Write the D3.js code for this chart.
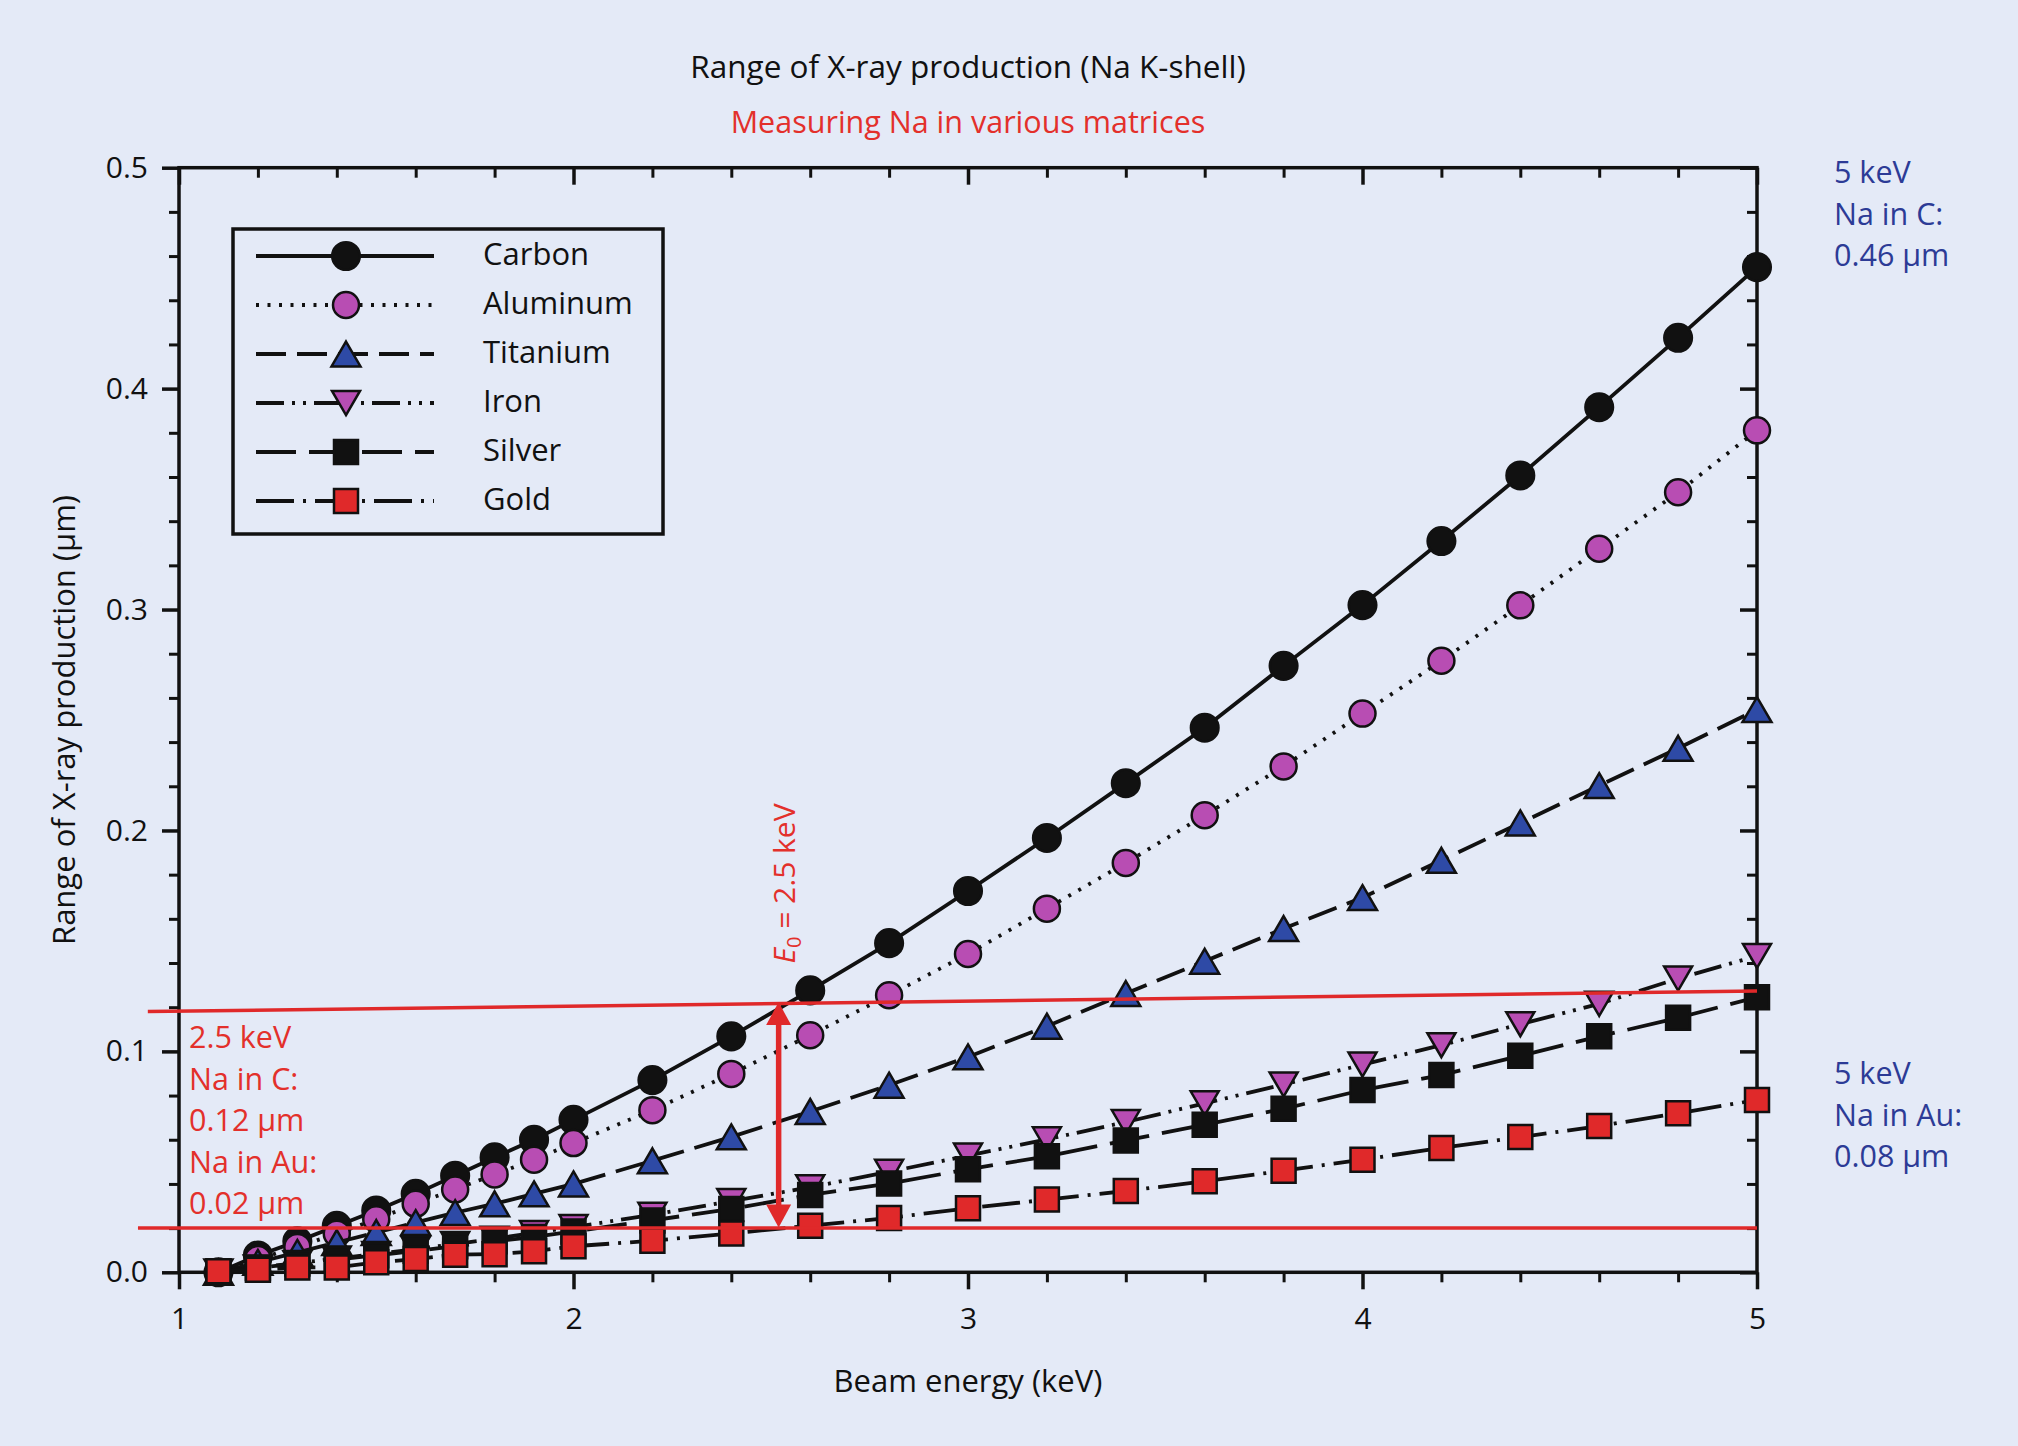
<!DOCTYPE html>
<html><head><meta charset="utf-8">
<script src="https://cdn.jsdelivr.net/npm/d3@7"></script>
<style>
html,body{margin:0;padding:0;background:#e4eaf7;}
svg{display:block;}
text{font-family:"Open Sans",sans-serif;}
</style></head><body>
<svg id="chart" width="2018" height="1446"></svg>
<script>
// ---------- data ----------
const energy   = [1.1,1.2,1.3,1.4,1.5,1.6,1.7,1.8,1.9,2.0,2.2,2.4,2.6,2.8,3.0,3.2,3.4,3.6,3.8,4.0,4.2,4.4,4.6,4.8,5.0];
const carbon   = [0.000,0.0076,0.014,0.021,0.028,0.0355,0.0437,0.052,0.060,0.069,0.087,0.1068,0.1276,0.149,0.1726,0.1966,0.2214,0.2465,0.2745,0.302,0.331,0.3607,0.3916,0.423,0.455];
const aluminum = [0.000,0.006,0.0115,0.0175,0.024,0.031,0.0375,0.0443,0.051,0.0585,0.0734,0.0898,0.1073,0.1254,0.1441,0.1646,0.1853,0.2069,0.229,0.2529,0.2768,0.3019,0.3275,0.3531,0.3811];
const titanium = [0.000,0.0045,0.009,0.0135,0.018,0.0225,0.027,0.031,0.0355,0.040,0.0505,0.0613,0.0728,0.0847,0.0975,0.1114,0.1262,0.1408,0.1556,0.1696,0.1865,0.2034,0.2203,0.2372,0.2547];
const iron     = [0.0003,0.0022,0.0042,0.0062,0.0083,0.0105,0.0128,0.0152,0.0178,0.0205,0.026,0.0322,0.0385,0.0455,0.0528,0.0602,0.068,0.0765,0.085,0.094,0.1028,0.1123,0.1215,0.133,0.1432];
const silver   = [0.0003,0.002,0.004,0.0058,0.0077,0.0097,0.0118,0.014,0.016,0.0185,0.0235,0.0287,0.035,0.0402,0.0466,0.0525,0.0597,0.0668,0.074,0.0825,0.0893,0.098,0.1068,0.1152,0.1245];
const gold     = [0.0005,0.0012,0.0022,0.0022,0.0045,0.006,0.008,0.0082,0.0095,0.0118,0.0143,0.0176,0.0211,0.0246,0.029,0.0329,0.0368,0.0412,0.046,0.051,0.0563,0.0612,0.0662,0.072,0.078];
const seriesNames = ["Carbon","Aluminum","Titanium","Iron","Silver","Gold"];

const xTicks = [1,2,3,4,5];
const xMinorTicks = [1.2,1.4,1.6,1.8,2.2,2.4,2.6,2.8,3.2,3.4,3.6,3.8,4.2,4.4,4.6,4.8];
const yTicks = [0,0.1,0.2,0.3,0.4,0.5];
const yMinorTicks = [0.02,0.04,0.06,0.08,0.12,0.14,0.16,0.18,0.22,0.24,0.26,0.28,0.32,0.34,0.36,0.38,0.42,0.44,0.46,0.48];

const titleText = "Range of X-ray production (Na K-shell)";
const subtitleText = "Measuring Na in various matrices";
const xLabel = "Beam energy (keV)";
const yLabel = "Range of X-ray production (µm)";

// annotation values
const upperLine = [[0.921,0.1180],[5.0,0.1273]];   // sloped red line
const lowerLine = [[0.896,0.020],[5.0,0.020]];     // horizontal red line
const arrowE = 2.52, arrowTop = 0.1223, arrowBottom = 0.0203;
const leftNote  = ["2.5 keV","Na in C:","0.12 µm","Na in Au:","0.02 µm"];
const rightTopNote = ["5 keV","Na in C:","0.46 µm"];
const rightBotNote = ["5 keV","Na in Au:","0.08 µm"];

// ---------- style ----------
const BLACK="#111111", MAGENTA="#b84db3", BLUE="#2e4aa6", RED="#e0292a", RED_TXT="#e3302b", BLUE_TXT="#2c3b96";
const triUp = {draw(ctx,s){const w=Math.sqrt(s),h=w*0.86;ctx.moveTo(0,-h/2);ctx.lineTo(w/2,h/2);ctx.lineTo(-w/2,h/2);ctx.closePath();}};
const triDown = {draw(ctx,s){const w=Math.sqrt(s),h=w*0.86;ctx.moveTo(0,h/2);ctx.lineTo(w/2,-h/2);ctx.lineTo(-w/2,-h/2);ctx.closePath();}};
const styles = {
  Carbon:   {type:d3.symbolCircle, size:Math.PI*13.8*13.8, fill:BLACK,   dash:null},
  Aluminum: {type:d3.symbolCircle, size:Math.PI*13*13,     fill:MAGENTA, dash:"3,8.5"},
  Titanium: {type:triUp,           size:29*29,             fill:BLUE,    dash:"30,11"},
  Iron:     {type:triDown,         size:28*28,             fill:MAGENTA, dash:"28,8,3,8,3,8"},
  Silver:   {type:d3.symbolSquare, size:24*24,             fill:BLACK,   dash:"40,13"},
  Gold:     {type:d3.symbolSquare, size:24*24,             fill:RED,     dash:"38,9,3,9"}
};
const seriesValues = [carbon,aluminum,titanium,iron,silver,gold];

// ---------- scales ----------
const svg = d3.select("#chart");
const x = d3.scaleLinear().domain([1,5]).range([179,1757]);
const y = d3.scaleLinear().domain([0,0.5]).range([1272.3,167.7]);
const FS = 30;

// titles
const cx = (x.range()[0]+x.range()[1])/2;
svg.append("text").attr("x",cx).attr("y",78).attr("text-anchor","middle")
  .attr("font-size",31.5).attr("fill",BLACK).text(titleText);
svg.append("text").attr("x",cx).attr("y",133).attr("text-anchor","middle")
  .attr("font-size",30.5).attr("fill",RED_TXT).text(subtitleText);

// axes
const axW = 3.5;
function styleAxis(g, sw){
  g.select(".domain").remove();
  g.selectAll(".tick line").attr("stroke",BLACK).attr("stroke-width",sw);
  g.selectAll(".tick text").attr("font-size",FS).attr("fill",BLACK).attr("font-family","Open Sans");
}
// left
svg.append("g").attr("transform",`translate(${x(1)},0)`)
  .call(d3.axisLeft(y).tickValues(yTicks).tickSize(17).tickSizeOuter(0).tickPadding(14).tickFormat(d3.format(".1f")))
  .call(g=>styleAxis(g,axW));
svg.append("g").attr("transform",`translate(${x(1)},0)`)
  .call(d3.axisLeft(y).tickValues(yMinorTicks).tickSize(10).tickFormat(""))
  .call(g=>styleAxis(g,3));
// bottom
svg.append("g").attr("transform",`translate(0,${y(0)})`)
  .call(d3.axisBottom(x).tickValues(xTicks).tickSize(17).tickSizeOuter(0).tickPadding(18).tickFormat(d3.format("d")))
  .call(g=>styleAxis(g,axW));
svg.append("g").attr("transform",`translate(0,${y(0)})`)
  .call(d3.axisBottom(x).tickValues(xMinorTicks).tickSize(10).tickFormat(""))
  .call(g=>styleAxis(g,3));
// top (inward)
svg.append("g").attr("transform",`translate(0,${y(0.5)})`)
  .call(d3.axisBottom(x).tickValues(xTicks).tickSize(17).tickFormat(""))
  .call(g=>styleAxis(g,axW));
svg.append("g").attr("transform",`translate(0,${y(0.5)})`)
  .call(d3.axisBottom(x).tickValues(xMinorTicks).tickSize(10).tickFormat(""))
  .call(g=>styleAxis(g,3));
// right (inward)
svg.append("g").attr("transform",`translate(${x(5)},0)`)
  .call(d3.axisLeft(y).tickValues(yTicks).tickSize(17).tickFormat(""))
  .call(g=>styleAxis(g,axW));
svg.append("g").attr("transform",`translate(${x(5)},0)`)
  .call(d3.axisLeft(y).tickValues(yMinorTicks).tickSize(10).tickFormat(""))
  .call(g=>styleAxis(g,3));
// frame
svg.append("rect").attr("x",x(1)).attr("y",y(0.5)).attr("width",x(5)-x(1)).attr("height",y(0)-y(0.5))
  .attr("fill","none").attr("stroke",BLACK).attr("stroke-width",axW);

// axis labels
svg.append("text").attr("x",cx).attr("y",1392).attr("text-anchor","middle")
  .attr("font-size",31).attr("fill",BLACK).text(xLabel);
svg.append("text").attr("transform",`translate(75,${(y(0)+y(0.5))/2}) rotate(-90)`).attr("text-anchor","middle")
  .attr("font-size",31).attr("fill",BLACK).text(yLabel);

// series
const line = d3.line().x(d=>x(d[0])).y(d=>y(d[1]));
seriesNames.forEach((name,i)=>{
  const st = styles[name];
  const pts = energy.map((e,j)=>[e,seriesValues[i][j]]);
  const g = svg.append("g");
  g.append("path").datum(pts).attr("d",line).attr("fill","none")
    .attr("stroke",BLACK).attr("stroke-width",3.8)
    .attr("stroke-dasharray",st.dash);
  g.selectAll("path.m").data(pts).join("path").attr("class","m")
    .attr("transform",d=>`translate(${x(d[0])},${y(d[1])})`)
    .attr("d",d3.symbol().type(st.type).size(st.size))
    .attr("fill",st.fill).attr("stroke",BLACK).attr("stroke-width",2.5).attr("stroke-linejoin","miter");
});

// legend
const lg = svg.append("g");
lg.append("rect").attr("x",233).attr("y",229).attr("width",430).attr("height",305)
  .attr("fill","none").attr("stroke",BLACK).attr("stroke-width",3.5);
seriesNames.forEach((name,i)=>{
  const st = styles[name];
  const yy = 256 + i*49;
  lg.append("line").attr("x1",256).attr("x2",434).attr("y1",yy).attr("y2",yy)
    .attr("stroke",BLACK).attr("stroke-width",3.8).attr("stroke-dasharray",st.dash);
  lg.append("path").attr("transform",`translate(346,${yy})`)
    .attr("d",d3.symbol().type(st.type).size(st.size))
    .attr("fill",st.fill).attr("stroke",BLACK).attr("stroke-width",2.5);
  lg.append("text").attr("x",483).attr("y",yy+9).attr("font-size",31).attr("fill",BLACK).text(name);
});

// red annotation lines
const redLine = d3.line().x(d=>x(d[0])).y(d=>y(d[1]));
svg.append("path").datum(upperLine).attr("d",redLine).attr("stroke",RED).attr("stroke-width",3.5).attr("fill","none");
svg.append("path").datum(lowerLine).attr("d",redLine).attr("stroke",RED).attr("stroke-width",3.5).attr("fill","none");

// double arrow
const ax = x(arrowE), ayT = y(arrowTop), ayB = y(arrowBottom);
const headL = 23, headW = 12.5;
svg.append("line").attr("x1",ax).attr("x2",ax).attr("y1",ayT+headL-2).attr("y2",ayB-headL+2)
  .attr("stroke",RED).attr("stroke-width",5.5);
svg.append("path").attr("d",`M${ax},${ayT} L${ax+headW},${ayT+headL} L${ax-headW},${ayT+headL} Z`).attr("fill",RED);
svg.append("path").attr("d",`M${ax},${ayB} L${ax+headW},${ayB-headL} L${ax-headW},${ayB-headL} Z`).attr("fill",RED);

// E0 label
const e0 = svg.append("text").attr("transform",`translate(${ax+16},${(y(0.139)+y(0.213))/2}) rotate(-90)`)
  .attr("text-anchor","middle").attr("font-size",FS).attr("fill",RED_TXT);
e0.append("tspan").attr("font-style","italic").text("E");
e0.append("tspan").attr("font-size",20).attr("dy",6).text("0");
e0.append("tspan").attr("dy",-6).text(" = 2.5 keV");

// notes
function note(lines, x0, y0, color){
  lines.forEach((t,i)=>svg.append("text").attr("x",x0).attr("y",y0+i*41.5).attr("font-size",30.5).attr("fill",color).text(t));
}
note(leftNote, 189, 1048, RED_TXT);
note(rightTopNote, 1834, 183, BLUE_TXT);
note(rightBotNote, 1834, 1084, BLUE_TXT);
</script>
</body></html>
